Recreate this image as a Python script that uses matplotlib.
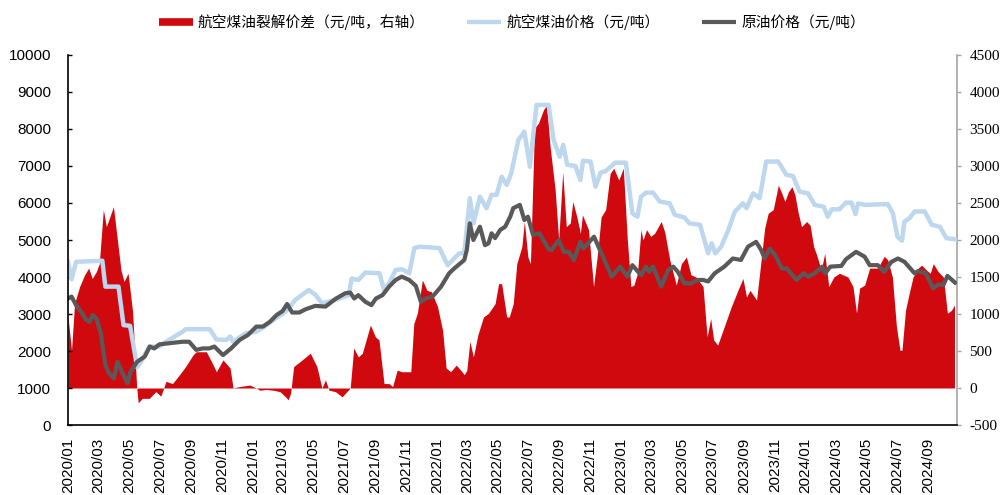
import matplotlib
matplotlib.use("Agg")
import matplotlib.pyplot as plt
import matplotlib.dates as mdates
from matplotlib.lines import Line2D
import pandas as pd

# ---------------- data ----------------
jet_dates = ["2020-01-01","2020-01-08","2020-01-17","2020-03-09","2020-03-15","2020-04-10","2020-04-20",
             "2020-05-03","2020-05-17","2020-05-27","2020-06-10","2020-06-29","2020-07-19","2020-08-15",
             "2020-08-21","2020-10-08","2020-10-21","2020-11-10","2020-11-17","2020-11-23","2020-12-18",
             "2021-01-08","2021-01-22","2021-02-17","2021-03-01","2021-03-13","2021-03-26","2021-04-22",
             "2021-05-05","2021-05-18","2021-06-14","2021-07-10","2021-07-16","2021-07-29","2021-08-12",
             "2021-09-09","2021-09-18","2021-09-28","2021-10-11","2021-10-24","2021-11-07","2021-11-17",
             "2021-11-27","2022-01-06","2022-01-22","2022-02-14","2022-02-24","2022-03-07","2022-03-14",
             "2022-03-27","2022-04-09","2022-04-19","2022-04-29","2022-05-09","2022-05-19","2022-05-28",
             "2022-06-11","2022-06-23","2022-07-04","2022-07-17","2022-08-10","2022-08-20","2022-09-01",
             "2022-09-08","2022-09-16","2022-10-02","2022-10-12","2022-10-17","2022-11-01","2022-11-11",
             "2022-11-21","2022-12-01","2022-12-20","2023-01-10","2023-01-23","2023-02-02","2023-02-09",
             "2023-02-19","2023-03-05","2023-03-18","2023-04-07","2023-04-17","2023-05-06","2023-05-16",
             "2023-06-06","2023-06-22","2023-06-29","2023-07-06","2023-07-18","2023-08-01","2023-08-14",
             "2023-08-30","2023-09-06","2023-09-19","2023-10-02","2023-10-15","2023-11-08","2023-11-24",
             "2023-12-07","2023-12-20","2024-01-06","2024-01-19","2024-02-06","2024-02-14","2024-02-22",
             "2024-03-08","2024-03-21","2024-04-01","2024-04-09","2024-04-14","2024-04-27","2024-06-12",
             "2024-06-22","2024-07-01","2024-07-10","2024-07-15","2024-07-25","2024-08-04","2024-08-24",
             "2024-09-07","2024-09-23","2024-10-06","2024-10-23"]
jet_price = [4410,3940,4410,4440,3740,3740,2700,
             2680,1560,1760,2120,2120,2300,2520,
             2590,2590,2310,2300,2390,2250,2480,
             2520,2640,2900,3000,3150,3380,3650,
             3520,3290,3380,3510,3960,3920,4120,
             4100,3650,3830,4190,4210,4100,4780,
             4820,4780,4320,4640,4640,6130,5450,
             6170,5860,6220,6220,6710,6490,6800,
             7700,7930,6980,8650,8650,7700,7250,
             7570,7030,7000,6620,7140,7120,6440,
             6820,6860,7090,7090,5720,5630,6170,
             6280,6280,6040,5990,5680,5610,5450,
             5410,4640,4910,4640,4820,5270,5770,
             5990,5860,6260,6130,7120,7120,6760,
             6730,6310,6260,5950,5900,5630,5830,
             5830,6010,6010,5700,5990,5950,5970,
             5720,5090,4980,5500,5590,5770,5770,
             5410,5360,5050,5020]

crude_dates = ["2020-01-01","2020-01-08","2020-01-17","2020-01-27","2020-02-06","2020-02-13","2020-02-19",
               "2020-02-26","2020-03-06","2020-03-15","2020-03-22","2020-04-01","2020-04-08","2020-04-18",
               "2020-04-28","2020-05-04","2020-05-17","2020-06-01","2020-06-11","2020-06-20","2020-06-30",
               "2020-07-26","2020-08-15","2020-08-28","2020-09-11","2020-09-24","2020-10-07","2020-10-17",
               "2020-11-03","2020-11-19","2020-12-06","2020-12-22","2020-12-26","2021-01-08","2021-01-21",
               "2021-02-04","2021-02-17","2021-03-01","2021-03-10","2021-03-20","2021-04-03","2021-04-16",
               "2021-05-05","2021-05-25","2021-06-14","2021-07-03","2021-07-13","2021-07-21","2021-07-29",
               "2021-08-12","2021-08-24","2021-09-02","2021-09-15","2021-09-28","2021-10-11","2021-10-23",
               "2021-11-07","2021-11-20","2021-11-30","2021-12-10","2021-12-23","2022-01-09","2022-01-25",
               "2022-02-04","2022-02-24","2022-03-01","2022-03-07","2022-03-14","2022-03-27","2022-04-06",
               "2022-04-13","2022-04-19","2022-04-26","2022-05-06","2022-05-16","2022-05-26","2022-06-01",
               "2022-06-14","2022-06-23","2022-06-30","2022-07-10","2022-07-23","2022-08-10","2022-08-16",
               "2022-08-30","2022-09-09","2022-09-19","2022-09-29","2022-10-12","2022-10-18","2022-11-08",
               "2022-11-27","2022-12-13","2022-12-30","2023-01-13","2023-01-23","2023-02-09","2023-02-19",
               "2023-02-25","2023-03-05","2023-03-21","2023-04-04","2023-04-14","2023-04-23","2023-05-06",
               "2023-05-19","2023-06-02","2023-06-12","2023-06-22","2023-07-05","2023-07-24","2023-08-10",
               "2023-08-26","2023-09-09","2023-09-25","2023-10-05","2023-10-12","2023-10-22","2023-11-02",
               "2023-11-15","2023-11-25","2023-12-14","2023-12-28","2024-01-06","2024-01-19","2024-02-03",
               "2024-02-09","2024-02-19","2024-03-12","2024-03-21","2024-04-10","2024-04-27","2024-05-07",
               "2024-05-23","2024-06-05","2024-06-19","2024-07-02","2024-07-15","2024-08-04","2024-08-11",
               "2024-08-26","2024-09-10","2024-09-20","2024-09-30","2024-10-08","2024-10-23"]
crude_price = [3420,3470,3240,3060,2840,2790,2970,
               2880,2480,1620,1400,1260,1710,1400,
               1130,1440,1710,1850,2120,2070,2180,
               2220,2250,2250,2030,2070,2070,2120,
               1890,2070,2300,2430,2480,2660,2660,
               2790,2970,3080,3270,3040,3040,3130,
               3220,3200,3410,3560,3580,3420,3510,
               3330,3240,3420,3510,3740,3920,4010,
               3920,3760,3330,3420,3470,3740,4100,
               4230,4460,4730,5450,5000,5360,4860,
               4910,5180,5050,5270,5360,5630,5860,
               5950,5540,5630,5140,5180,4750,4730,
               5000,4680,4680,4460,4950,4770,5090,
               4500,4010,4280,4010,4320,4050,4280,
               4140,4280,3740,4190,4280,4140,3830,
               3830,3920,3920,3880,4100,4280,4500,
               4460,4820,4950,4730,4500,4770,4590,
               4230,4230,3920,4100,4010,4100,4280,
               4100,4280,4300,4480,4680,4550,4320,
               4320,4140,4410,4500,4410,4100,4160,
               4100,3690,3800,3780,4030,3850]

crack_dates = ["2020-01-01","2020-01-08","2020-01-14","2020-01-24","2020-02-03","2020-02-11","2020-02-18",
               "2020-02-26","2020-03-03","2020-03-11","2020-03-17","2020-03-31","2020-04-15","2020-04-21",
               "2020-04-29","2020-05-08","2020-05-16","2020-05-19","2020-05-27","2020-06-10","2020-06-23",
               "2020-07-03","2020-07-13","2020-07-26","2020-08-09","2020-08-21","2020-09-05","2020-09-11",
               "2020-10-01","2020-10-11","2020-10-21","2020-11-03","2020-11-17","2020-11-23","2020-12-06",
               "2020-12-26","2021-01-08","2021-01-15","2021-01-28","2021-02-11","2021-02-24","2021-03-07",
               "2021-03-12","2021-03-17","2021-03-23","2021-04-09","2021-04-25","2021-05-08","2021-05-18",
               "2021-05-25","2021-06-01","2021-06-14","2021-06-27","2021-07-13","2021-07-20","2021-07-29",
               "2021-08-06","2021-08-22","2021-09-01","2021-09-08","2021-09-18","2021-09-28","2021-10-05",
               "2021-10-14","2021-10-24","2021-11-10","2021-11-16","2021-11-23","2021-12-03","2021-12-12",
               "2021-12-21","2022-01-02","2022-01-12","2022-01-19","2022-01-28","2022-02-08","2022-02-17",
               "2022-02-24","2022-03-01","2022-03-07","2022-03-14","2022-03-23","2022-04-03","2022-04-13",
               "2022-04-26","2022-05-03","2022-05-09","2022-05-19","2022-05-24","2022-06-01","2022-06-08",
               "2022-06-18","2022-06-23","2022-06-30","2022-07-05","2022-07-13","2022-07-21","2022-07-31",
               "2022-08-06","2022-08-13","2022-08-23","2022-08-30","2022-09-07","2022-09-14","2022-09-22",
               "2022-09-27","2022-10-05","2022-10-12","2022-10-16","2022-10-28","2022-11-07","2022-11-15",
               "2022-11-22","2022-12-01","2022-12-10","2022-12-17","2022-12-27","2023-01-05","2023-01-13",
               "2023-01-20","2023-01-26","2023-02-02","2023-02-09","2023-02-13","2023-02-20","2023-02-28",
               "2023-03-08","2023-03-21","2023-03-28","2023-04-07","2023-04-20","2023-04-30","2023-05-10",
               "2023-05-19","2023-05-29","2023-06-12","2023-06-20","2023-06-27","2023-07-03","2023-07-11",
               "2023-07-24","2023-08-07","2023-08-20","2023-08-30","2023-09-06","2023-09-13","2023-09-26",
               "2023-10-05","2023-10-12","2023-10-19","2023-10-29","2023-11-08","2023-11-15","2023-11-21",
               "2023-11-28","2023-12-05","2023-12-11","2023-12-17","2023-12-24","2024-01-03","2024-01-10",
               "2024-01-17","2024-01-23","2024-02-01","2024-02-08","2024-02-16","2024-02-26","2024-03-08",
               "2024-03-25","2024-04-04","2024-04-11","2024-04-17","2024-04-27","2024-05-04","2024-05-07",
               "2024-05-23","2024-06-05","2024-06-12","2024-06-21","2024-06-29","2024-07-06","2024-07-10",
               "2024-07-17","2024-07-25","2024-08-01","2024-08-11","2024-08-18","2024-08-28","2024-09-04",
               "2024-09-10","2024-09-20","2024-09-30","2024-10-08","2024-10-16","2024-10-22"]
crack_spread = [960,510,1140,1370,1530,1620,1480,
                1570,1680,2410,2180,2450,1590,1440,
                1550,1030,20,-200,-140,-140,-50,
                -110,90,60,180,290,450,490,
                490,360,220,380,270,0,20,
                40,0,-30,-20,-30,-50,-120,
                -160,-70,290,380,470,290,0,
                110,-30,-50,-120,0,540,420,
                470,850,690,650,60,60,20,
                240,220,220,870,1010,1460,1320,
                1300,1100,780,270,220,310,240,
                180,240,630,420,720,960,1010,
                1140,1410,1410,960,960,1140,1680,
                1910,2250,1770,1680,3510,3580,3760,
                3820,3260,2680,2000,2920,2180,2230,
                2520,2310,2090,2340,2140,1370,1820,
                2310,2410,2900,2970,2810,2970,2000,
                1370,1390,1550,2140,2000,2140,2050,
                2090,2250,2110,1730,1390,1680,1770,
                1530,1500,1370,690,940,650,580,
                830,1100,1320,1480,1230,1320,1190,
                1730,2160,2360,2410,2740,2630,2520,
                2650,2720,2610,2380,2180,2250,2200,
                1910,1800,1590,1820,1370,1500,1550,
                1500,1370,1010,1350,1390,1550,1620,
                1620,1780,1730,1500,830,510,510,
                1050,1300,1500,1620,1660,1590,1550,
                1680,1570,1500,1010,1050,1120]

left_ticks = [0,1000,2000,3000,4000,5000,6000,7000,8000,9000,10000]
right_ticks = [-500,0,500,1000,1500,2000,2500,3000,3500,4000,4500]

label_crack = "航空煤油裂解价差（元/吨，右轴）"
label_jet = "航空煤油价格（元/吨）"
label_crude = "原油价格（元/吨）"

# ---------------- style ----------------
RED = "#D0090F"
BLUE = "#BDD7EE"
GRAY = "#595959"
CJK = ["Noto Sans CJK SC", "DejaVu Sans"]

jd = pd.to_datetime(jet_dates)
cd = pd.to_datetime(crude_dates)
kd = pd.to_datetime(crack_dates)

fig = plt.figure(figsize=(10, 4.95), dpi=100)
ax1 = fig.add_axes([0.068, 0.1414, 0.889, 0.7475])
ax2 = ax1.twinx()
ax1.set_zorder(ax2.get_zorder() + 1)
ax1.patch.set_visible(False)

ax2.fill_between(kd, crack_spread, 0, color=RED, linewidth=0)
ax1.plot(jd, jet_price, color=BLUE, lw=3.2, solid_joinstyle="round")
ax1.plot(cd, crude_price, color=GRAY, lw=3.0, solid_joinstyle="round")

xmin = pd.Timestamp("2020-01-01")
xmax = pd.Timestamp("2024-10-27")
ax1.set_xlim(xmin, xmax)
ax1.set_ylim(0, 10000)
ax2.set_ylim(-500, 4500)

ax1.set_yticks(left_ticks)
ax2.set_yticks(right_ticks)
ax1.set_yticklabels([str(v) for v in left_ticks], fontfamily="Liberation Sans", fontsize=11)
ax2.set_yticklabels([str(v) for v in right_ticks], fontfamily="Liberation Serif", fontsize=11)

xt = pd.date_range("2020-01-01", "2024-09-01", freq="2MS")
ax1.set_xticks(xt)
ax1.set_xticklabels([d.strftime("%Y/%m") for d in xt], rotation=90,
                    fontfamily="Liberation Sans", fontsize=11, va="top", ha="center")
ax1.tick_params(axis="x", length=0, pad=9)
ax1.tick_params(axis="y", direction="in", length=3, width=1, color="black", pad=12)
ax2.tick_params(axis="y", direction="out", length=3, width=1, color="#A6A6A6", pad=6)

for s in ["top", "right"]:
    ax1.spines[s].set_visible(False)
ax1.spines["left"].set_color("black")
ax1.spines["bottom"].set_color("black")
ax1.spines["left"].set_linewidth(1.2)
ax1.spines["bottom"].set_linewidth(1.2)
for s in ["top", "left", "bottom"]:
    ax2.spines[s].set_visible(False)
ax2.spines["right"].set_color("#A6A6A6")
ax2.spines["right"].set_linewidth(1.2)

handles = [Line2D([], [], color=RED, lw=5.5, solid_capstyle="butt"),
           Line2D([], [], color=BLUE, lw=3.2, solid_capstyle="butt"),
           Line2D([], [], color=GRAY, lw=3.0, solid_capstyle="butt")]
fig.legend(handles, [label_crack, label_jet, label_crude], loc="center",
           bbox_to_anchor=(0.512, 0.955), ncol=3, frameon=False,
           prop={"family": CJK, "size": 10.6}, handlelength=2.3,
           handletextpad=0.35, columnspacing=2.9, borderaxespad=0)

fig.savefig("out.png", dpi=100)
